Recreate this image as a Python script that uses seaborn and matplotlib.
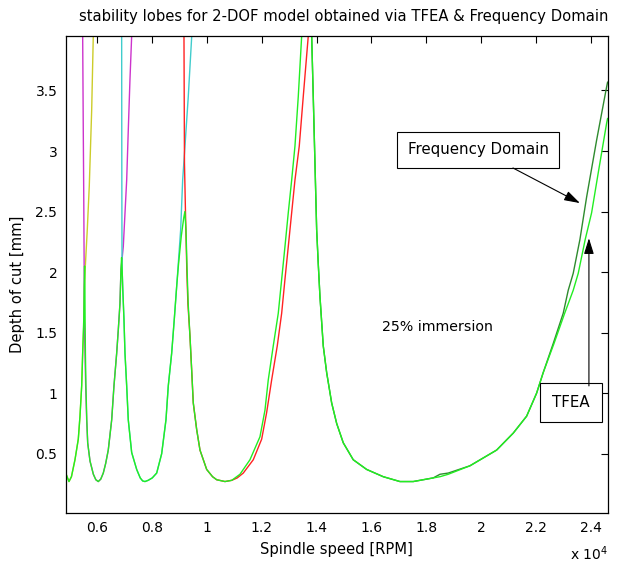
import seaborn as sns
import matplotlib.pyplot as plt

# ---- data (spindle speed [rpm], depth of cut [mm]) ----

# frequency domain lobes, one per colour
lobe_a_rpm = [4840, 4960, 5050, 5179, 5300, 5362, 5424, 5460, 5508, 5525, 5550, 5628, 5701, 5789, 5847]
lobe_a_depth = [0.34, 0.27, 0.31, 0.45, 0.62, 0.81, 1.06, 1.33, 1.61, 1.88, 2.02, 2.35, 2.71, 3.34, 3.95]

lobe_b_rpm = [5460, 5482, 5500, 5515, 5520, 5544, 5570, 5606, 5643, 5727, 5850, 5940, 6030, 6120,
              6212, 6300, 6394, 6519, 6602, 6701, 6759, 6821, 6858, 6942, 7066, 7124, 7186, 7248]
lobe_b_depth = [3.95, 3.17, 2.60, 2.00, 1.61, 1.33, 1.06, 0.78, 0.59, 0.44, 0.33, 0.285, 0.27, 0.29,
                0.34, 0.42, 0.53, 0.78, 1.06, 1.33, 1.52, 1.74, 2.02, 2.21, 2.76, 3.17, 3.59, 3.95]

lobe_c_rpm = [6883, 6888, 6894, 6900, 6920, 6967, 7004, 7066, 7124, 7248, 7431, 7560, 7650, 7734,
              7850, 8000, 8161, 8343, 8500, 8584, 8708, 8803, 8890, 8949, 9036, 9109, 9193, 9314, 9440]
lobe_c_depth = [3.95, 2.90, 2.21, 2.02, 1.88, 1.61, 1.33, 1.06, 0.78, 0.51, 0.37, 0.30, 0.275, 0.27,
                0.28, 0.30, 0.34, 0.50, 0.78, 1.06, 1.33, 1.61, 1.88, 2.07, 2.35, 2.76, 3.04, 3.45, 3.95]

lobe_d_rpm = [9157, 9175, 9215, 9260, 9300, 9376, 9438, 9496, 9620, 9741, 9985, 10200, 10350, 10653,
              10900, 11100, 11321, 11686, 11992, 12174, 12357, 12561, 12722, 12842, 12963, 13087,
              13207, 13364, 13510, 13693]
lobe_d_depth = [3.95, 2.90, 2.46, 2.02, 1.74, 1.47, 1.19, 0.92, 0.70, 0.53, 0.37, 0.31, 0.285, 0.27,
                0.28, 0.30, 0.34, 0.45, 0.62, 0.84, 1.11, 1.39, 1.66, 1.94, 2.21, 2.49,
                2.76, 3.04, 3.45, 3.95]

lobe_e_rpm = [13817, 13875, 13937, 13999, 14057, 14119, 14240, 14364, 14546, 14729, 14970,
              15334, 15823, 16429, 17038, 17524, 18253, 18500, 18800, 19592, 20567, 21173,
              21662, 22026, 22267, 22632, 22997, 23180, 23362, 23607, 23851, 24216, 24581, 24617]
lobe_e_depth = [3.95, 3.45, 2.90, 2.35, 2.07, 1.80, 1.39, 1.17, 0.92, 0.75, 0.59,
                0.45, 0.37, 0.31, 0.27, 0.27, 0.30, 0.33, 0.34, 0.40, 0.53, 0.67,
                0.81, 1.00, 1.17, 1.41, 1.66, 1.85, 1.99, 2.27, 2.62, 3.09, 3.53, 3.57]

# TFEA result (two pieces, the peak near 13800 rpm is above the plot)
tfea1_rpm = [4840, 4960, 5050, 5179, 5300, 5362, 5424, 5460, 5500, 5515, 5530, 5540, 5548, 5560,
             5578, 5610, 5643, 5727, 5850, 5940, 6030, 6120, 6212, 6300, 6394, 6519, 6602, 6701,
             6759, 6821, 6858, 6880, 6900, 6920, 6967, 7004, 7066, 7124, 7248, 7431, 7560, 7650,
             7734, 7850, 8000, 8161, 8343, 8500, 8584, 8708, 8803, 8890, 8960, 9060, 9150, 9190,
             9230, 9270, 9310, 9376, 9438, 9496, 9620, 9741, 9985, 10200, 10350, 10653, 10900,
             11200, 11565, 11930, 12113, 12233, 12415, 12598, 12722, 12842, 12963, 13087, 13207,
             13328, 13452]
tfea1_depth = [0.34, 0.27, 0.31, 0.45, 0.62, 0.81, 1.06, 1.33, 1.61, 1.88, 2.05, 1.88, 1.61, 1.33,
               1.06, 0.78, 0.59, 0.44, 0.33, 0.285, 0.27, 0.29, 0.34, 0.42, 0.53, 0.78, 1.06, 1.33,
               1.52, 1.74, 2.02, 2.12, 2.02, 1.88, 1.61, 1.33, 1.06, 0.78, 0.51, 0.37, 0.30, 0.275,
               0.27, 0.28, 0.30, 0.34, 0.50, 0.78, 1.06, 1.33, 1.61, 1.88, 2.07, 2.30, 2.45, 2.50,
               2.35, 2.02, 1.74, 1.47, 1.19, 0.92, 0.70, 0.53, 0.37, 0.31, 0.285, 0.27, 0.28,
               0.33, 0.45, 0.64, 0.86, 1.11, 1.39, 1.66, 1.94, 2.21, 2.49, 2.76, 3.04,
               3.45, 3.95]

tfea2_rpm = [13817, 13875, 13937, 13999, 14057, 14119, 14240, 14364, 14546, 14729, 14970,
             15334, 15823, 16429, 17038, 17524, 18253, 18500, 18800, 19592, 20567, 21173,
             21662, 22026, 22267, 22660, 23050, 23362, 23545, 23800, 24033, 24275, 24581, 24617]
tfea2_depth = [3.95, 3.45, 2.90, 2.35, 2.07, 1.80, 1.39, 1.17, 0.92, 0.75, 0.59,
               0.45, 0.37, 0.31, 0.27, 0.27, 0.30, 0.31, 0.33, 0.40, 0.53, 0.67,
               0.81, 1.00, 1.17, 1.41, 1.66, 1.85, 1.99, 2.27, 2.49, 2.82, 3.23, 3.27]

x_ticks = [6000, 8000, 10000, 12000, 14000, 16000, 18000, 20000, 22000, 24000]
x_tick_labels = ['0.6', '0.8', '1', '1.2', '1.4', '1.6', '1.8', '2', '2.2', '2.4']
y_ticks = [0.5, 1, 1.5, 2, 2.5, 3, 3.5]
y_tick_labels = ['0.5', '1', '1.5', '2', '2.5', '3', '3.5']

# ---- style ----
sns.set_style('white')
plt.rcParams['font.family'] = ['DejaVu Sans']
plt.rcParams['text.color'] = 'black'
plt.rcParams['axes.labelcolor'] = 'black'

fig = plt.figure(figsize=(6.22, 5.67), dpi=100)
ax = fig.add_axes([0.1056, 0.0952, 0.8714, 0.8413])

lobes = [
    (lobe_a_rpm, lobe_a_depth, '#cccc2a'),
    (lobe_b_rpm, lobe_b_depth, '#cc33cc'),
    (lobe_c_rpm, lobe_c_depth, '#40cccc'),
    (lobe_d_rpm, lobe_d_depth, '#ff2222'),
    (lobe_e_rpm, lobe_e_depth, '#2e8b2e'),
]
for rpm, depth, col in lobes:
    sns.lineplot(x=rpm, y=depth, color=col, lw=1.0, sort=False, estimator=None, ax=ax)

# TFEA drawn on top in bright green
for rpm, depth in [(tfea1_rpm, tfea1_depth), (tfea2_rpm, tfea2_depth)]:
    sns.lineplot(x=rpm, y=depth, color='#22ee22', lw=1.0, sort=False, estimator=None, ax=ax)

ax.set_xlim(4840, 24620)
ax.set_ylim(0.01, 3.95)

ax.set_xticks(x_ticks)
ax.set_xticklabels(x_tick_labels)
ax.set_yticks(y_ticks)
ax.set_yticklabels(y_tick_labels)
ax.tick_params(direction='in', length=5, width=0.8, top=True, right=True,
               labelsize=10, colors='black', pad=6)
for s in ax.spines.values():
    s.set_color('black')
    s.set_linewidth(0.9)

ax.set_xlabel('Spindle speed [RPM]', fontsize=10.6, labelpad=5)
ax.set_ylabel('Depth of cut [mm]', fontsize=10.6)
ax.yaxis.set_label_coords(-0.075, 0.48)
ax.set_title('stability lobes for 2-DOF model obtained via TFEA & Frequency Domain',
             fontsize=10.6, pad=11, x=0.512)
ax.text(1.0, -0.085, r'x 10$^4$', transform=ax.transAxes, ha='right', va='center', fontsize=10)

# annotations
ax.text(16380, 1.55, '25% immersion', fontsize=10.2, ha='left', va='center')

ax.text(19903, 3.01, 'Frequency Domain', fontsize=10.8, ha='center', va='center',
        bbox=dict(boxstyle='square,pad=0.7', fc='white', ec='black', lw=0.8))
ax.annotate('', xy=(23607, 2.57), xytext=(21163, 2.86),
            arrowprops=dict(arrowstyle='-|>,head_length=0.8,head_width=0.25', color='black',
                            lw=0.8, mutation_scale=12, shrinkA=0, shrinkB=0))

ax.text(23278, 0.92, 'TFEA', fontsize=10.8, ha='center', va='center',
        bbox=dict(boxstyle='square,pad=0.8', fc='white', ec='black', lw=0.8))
ax.annotate('', xy=(23935, 2.28), xytext=(23935, 1.06),
            arrowprops=dict(arrowstyle='-|>,head_length=0.8,head_width=0.25', color='black',
                            lw=0.8, mutation_scale=12, shrinkA=0, shrinkB=0))

plt.savefig('out.png', dpi=100)
